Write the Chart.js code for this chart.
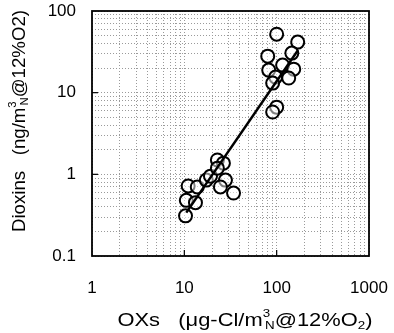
<!DOCTYPE html>
<html>
<head>
<meta charset="utf-8">
<script src="https://cdn.jsdelivr.net/npm/chart.js@4"></script>
<style>
  html, body { margin: 0; padding: 0; background: #fff; }
  #wrap { width: 394px; height: 333px; }
</style>
</head>
<body>
<div id="wrap"><canvas id="oxChart" width="394" height="333"></canvas></div>
<script>
const oxs = [10.3, 10.5, 13.2, 11.0, 13.8, 17.3, 19.2, 22.8, 26.5, 22.8, 27.9, 24.6, 34.1,
             100, 169, 80, 146, 116, 153, 82, 97.5, 135, 90.5, 100, 90.5];
const dioxins = [0.31, 0.48, 0.45, 0.72, 0.70, 0.85, 0.95, 1.5, 1.37, 1.19, 0.85, 0.70, 0.59,
                 52, 41.6, 28, 30.5, 21.8, 19.4, 18.9, 15.5, 15.1, 13.1, 6.65, 5.8];
// regression line end points
const fitX = [10.5, 170];
const fitY = [0.34, 33];

const xTickLabels = [1, 10, 100, 1000];
const yTickLabels = [0.1, 1, 10, 100];

function logTicks(lo, hi) {
  const out = [];
  for (let d = lo; d < hi; d *= 10) {
    for (let k = 1; k < 10; k++) out.push(+(d * k).toPrecision(3));
  }
  out.push(hi);
  return out;
}

const FONT = 'Liberation Sans, Arial, Helvetica, sans-serif';

// draws a run of text pieces, stretched so it covers `span` px
function drawRich(ctx, segs, cx, cy, span) {
  let w = 0;
  segs.forEach(s => {
    ctx.font = s.size + 'px ' + FONT;
    s.w = ctx.measureText(s.t).width;
    s.x = s.stack ? w - segs[segs.indexOf(s) - 1].w + 2 : w;
    w = Math.max(w, s.x + s.w);
  });
  const k = span / w;
  ctx.save();
  ctx.translate(cx, cy);
  ctx.scale(k, 1);
  ctx.textBaseline = 'middle';
  ctx.textAlign = 'left';
  segs.forEach(s => {
    ctx.font = s.size + 'px ' + FONT;
    ctx.fillText(s.t, s.x - w / 2, s.dy || 0);
  });
  ctx.restore();
}

const xTitle = [
  { t: 'OXs   (\u03bcg-Cl/m', size: 18 },
  { t: '3', size: 11, dy: -7 },
  { t: 'N', size: 11, dy: 5, stack: true },
  { t: '@12%O', size: 18 },
  { t: '2', size: 11, dy: 5 },
  { t: ')', size: 18 }
];
const yTitle = [
  { t: 'Dioxins   (ng/m', size: 18 },
  { t: '3', size: 11, dy: -7 },
  { t: 'N', size: 11, dy: 5, stack: true },
  { t: '@12%O2)', size: 18 }
];

const frame = {
  id: 'frame',
  beforeDatasetsDraw(chart) {
    const { ctx, chartArea: a, scales } = chart;
    ctx.save();
    ctx.strokeStyle = '#000';
    ctx.lineWidth = 1.2;
    [10, 100].forEach(v => {
      const px = scales.x.getPixelForValue(v);
      ctx.beginPath(); ctx.moveTo(px, a.bottom); ctx.lineTo(px, a.bottom - 6); ctx.stroke();
    });
    [1, 10].forEach(v => {
      const py = scales.y.getPixelForValue(v);
      ctx.beginPath(); ctx.moveTo(a.left, py); ctx.lineTo(a.left + 6, py); ctx.stroke();
    });
    ctx.lineWidth = 1.8;
    ctx.strokeRect(a.left, a.top, a.right - a.left, a.bottom - a.top);
    ctx.restore();
  },
  afterDraw(chart) {
    const { ctx } = chart;
    ctx.save();
    ctx.fillStyle = '#000';
    drawRich(ctx, xTitle, 245, 321, 255);
    ctx.translate(20, 121);
    ctx.rotate(-Math.PI / 2);
    drawRich(ctx, yTitle, 0, 0, 222);
    ctx.restore();
  }
};

const tickFont = { family: FONT, size: 17 };

new Chart(document.getElementById('oxChart').getContext('2d'), {
  type: 'scatter',
  data: {
    datasets: [{
      type: 'line',
      data: fitX.map((x, i) => ({ x: x, y: fitY[i] })),
      borderColor: '#000',
      borderWidth: 2.5,
      pointRadius: 0,
      order: 0
    }, {
      data: oxs.map((x, i) => ({ x: x, y: dioxins[i] })),
      pointRadius: 6.5,
      pointBorderWidth: 2,
      pointBorderColor: '#000',
      pointBackgroundColor: 'rgba(255,255,255,0.5)',
      order: 1
    }]
  },
  options: {
    responsive: false,
    animation: false,
    events: [],
    layout: { padding: { top: 11, right: 25, left: 0, bottom: 0 } },
    plugins: { legend: { display: false }, tooltip: { enabled: false } },
    scales: {
      x: {
        type: 'logarithmic',
        min: 1,
        max: 1000,
        afterBuildTicks: s => { s.ticks = logTicks(1, 1000).map(v => ({ value: v })); },
        afterFit: s => { s.height = 77; s.paddingLeft = 0; s.paddingRight = 0; },
        ticks: {
          autoSkip: false,
          maxRotation: 0,
          padding: 22,
          color: '#000',
          font: tickFont,
          callback: v => xTickLabels.includes(v) ? String(v) : ''
        },
        grid: { color: '#9a9a9a', lineWidth: 1, drawTicks: false },
        border: { display: false, dash: [1, 2] }
      },
      y: {
        type: 'logarithmic',
        min: 0.1,
        max: 100,
        afterBuildTicks: s => { s.ticks = logTicks(0.1, 100).map(v => ({ value: v })); },
        afterFit: s => { s.width = 92; s.paddingTop = 0; s.paddingBottom = 0; },
        ticks: {
          autoSkip: false,
          padding: 16,
          color: '#000',
          font: tickFont,
          callback: v => yTickLabels.includes(v) ? String(v) : ''
        },
        grid: { color: '#9a9a9a', lineWidth: 1, drawTicks: false },
        border: { display: false, dash: [1, 2] }
      }
    }
  },
  plugins: [frame]
});
</script>
</body>
</html>
